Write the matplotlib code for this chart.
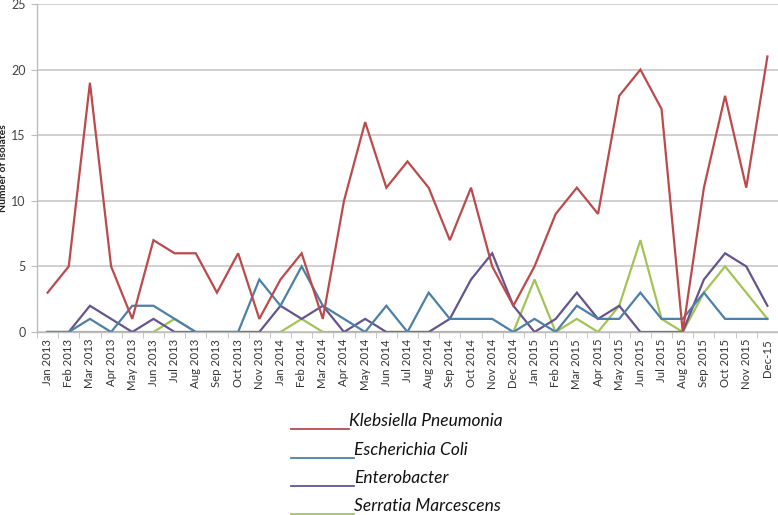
import numpy as np
import matplotlib
matplotlib.use('Agg')
import matplotlib.pyplot as plt
from matplotlib.lines import Line2D

# months (Dec 2013 is missing in the source chart)
months = ['Jan 2013', 'Feb 2013', 'Mar 2013', 'Apr 2013', 'May 2013', 'Jun 2013',
          'Jul 2013', 'Aug 2013', 'Sep 2013', 'Oct 2013', 'Nov 2013',
          'Jan 2014', 'Feb 2014', 'Mar 2014', 'Apr 2014', 'May 2014', 'Jun 2014',
          'Jul 2014', 'Aug 2014', 'Sep 2014', 'Oct 2014', 'Nov 2014', 'Dec 2014',
          'Jan 2015', 'Feb 2015', 'Mar 2015', 'Apr 2015', 'May 2015', 'Jun 2015',
          'Jul 2015', 'Aug 2015', 'Sep 2015', 'Oct 2015', 'Nov 2015', 'Dec-15']

klebsiella = [3, 5, 19, 5, 1, 7, 6, 6, 3, 6, 1,
              4, 6, 1, 10, 16, 11, 13, 11, 7, 11, 5, 2,
              5, 9, 11, 9, 18, 20, 17, 0, 11, 18, 11, 21]
e_coli = [0, 0, 1, 0, 2, 2, 1, 0, 0, 0, 4,
          2, 5, 2, 1, 0, 2, 0, 3, 1, 1, 1, 0,
          1, 0, 2, 1, 1, 3, 1, 1, 3, 1, 1, 1]
enterobacter = [0, 0, 2, 1, 0, 1, 0, 0, 0, 0, 0,
                2, 1, 2, 0, 1, 0, 0, 0, 1, 4, 6, 2,
                0, 1, 3, 1, 2, 0, 0, 0, 4, 6, 5, 2]
serratia = [0, 0, 0, 0, 0, 0, 1, 0, 0, 0, 0,
            0, 1, 0, 0, 0, 0, 0, 0, 0, 0, 0, 0,
            4, 0, 1, 0, 2, 7, 1, 0, 3, 5, 3, 1]

names = ['Klebsiella Pneumonia', 'Escherichia Coli', 'Enterobacter', 'Serratia Marcescens']
series = [klebsiella, e_coli, enterobacter, serratia]
colors = ['#bc4a4c', '#4d80a8', '#66558c', '#a3c455']

plt.rcParams['font.family'] = ['Lato', 'DejaVu Sans']

W, H = 778, 515
fig = plt.figure(figsize=(W / 100, H / 100), dpi=100)
ax = fig.add_axes([37 / W, 1 - 332 / H, 741 / W, 328 / H])

x = np.arange(len(months))
# draw in reverse so red ends up on top
for vals, c in list(zip(series, colors))[::-1]:
    ax.plot(x, vals, color=c, lw=1.6, solid_joinstyle='miter')

ax.set_xlim(-0.5, len(months) - 0.5)
ax.set_ylim(0, 25)
ax.set_yticks(range(0, 26, 5))
ax.yaxis.grid(True, color='#c8c8c8', lw=1.2)
ax.set_axisbelow(True)
for s in ['top', 'right']:
    ax.spines[s].set_visible(False)
for s in ['left', 'bottom']:
    ax.spines[s].set_color('#bdbdbd')
    ax.spines[s].set_linewidth(1.0)

ax.set_xticks(x)
ax.set_xticklabels(months, rotation=90, fontsize=8.2, color='#333333')
ax.set_xticks(np.arange(-0.5, len(months), 1), minor=True)
ax.tick_params(axis='x', which='major', length=0, pad=5)
ax.tick_params(axis='x', which='minor', length=4, color='#bdbdbd')
ax.tick_params(axis='y', length=4, color='#bdbdbd', labelsize=9, labelcolor='#444444', pad=4)
ax.set_ylabel('Number of isolates', fontsize=7.5, fontweight='bold', color='#222222')
ax.yaxis.set_label_coords(-29 / 741, 0.5)

# legend drawn below the chart
rows_y = [429, 458, 486, 514]
line_end = [349, 354, 354, 354]
for name, c, yy, xe in zip(names, colors, rows_y, line_end):
    fig.add_artist(Line2D([291 / W, xe / W], [1 - yy / H, 1 - yy / H],
                          color=c, lw=1.3, transform=fig.transFigure))
    fig.text(xe / W, 1 - (yy - 3) / H, name, fontsize=12.5, style='italic',
             color='#111111', ha='left', va='baseline')

fig.savefig('out.png', dpi=100)
